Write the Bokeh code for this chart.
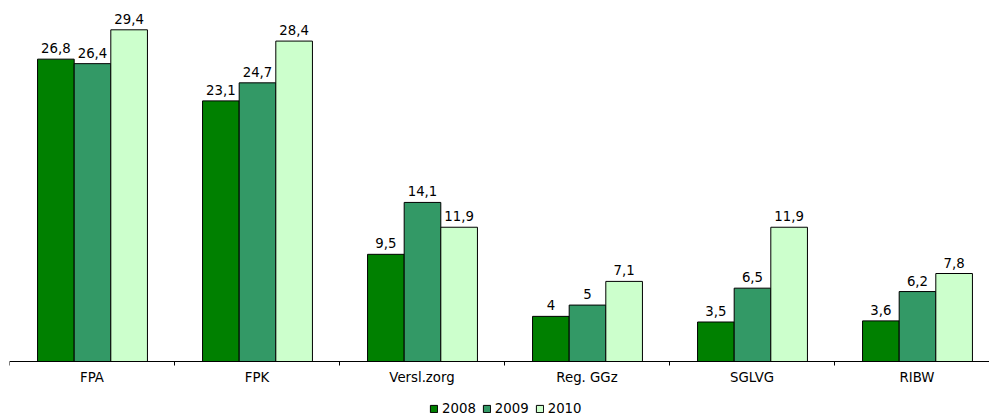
from bokeh.plotting import figure
from bokeh.models import (ColumnDataSource, Range1d, FixedTicker, Legend, LegendItem, LabelSet)
from bokeh.core.properties import value
from bokeh.embed import file_html
from bokeh.resources import INLINE

categories = ["FPA", "FPK", "Versl.zorg", "Reg. GGz", "SGLVG", "RIBW"]
years = ["2008", "2009", "2010"]
v2008 = [26.8, 23.1, 9.5, 4, 3.5, 3.6]
v2009 = [26.4, 24.7, 14.1, 5, 6.5, 6.2]
v2010 = [29.4, 28.4, 11.9, 7.1, 11.9, 7.8]
series = [v2008, v2009, v2010]
colors = ["#008000", "#339966", "#CCFFCC"]

FONT = "DejaVu Sans"
FS = "13.3px"
bar_w = 0.222
offsets = [-bar_w, 0.0, bar_w]
PX_PER_UNIT = 352 / 31.2

p = figure(frame_width=980, frame_height=409,
           output_backend="svg", toolbar_location=None,
           x_range=Range1d(0, 980 / 165.0), y_range=Range1d(-57 / PX_PER_UNIT, 31.2),
           min_border_left=9, min_border_right=0, min_border_top=9, min_border_bottom=0)
p.outline_line_color = None
p.xgrid.visible = False
p.ygrid.visible = False
p.yaxis.visible = False

renderers = []
for k, (vals, col) in enumerate(zip(series, colors)):
    xs = [i + 0.503 + offsets[k] for i in range(len(categories))]
    labels = [f"{v:g}".replace(".", ",") for v in vals]
    src = ColumnDataSource(dict(x=xs, top=vals, lab=labels))
    r = p.vbar(x="x", top="top", bottom=0, width=bar_w, source=src,
               fill_color=col, line_color="#000000", line_width=1)
    renderers.append(r)
    ls = LabelSet(x="x", y="top", text="lab", source=src, text_align="center",
                  text_baseline="bottom", y_offset=6, text_font=value(FONT),
                  text_font_size=FS, text_color="#000000")
    p.add_layout(ls)

ax = p.xaxis[0]
ax.fixed_location = 0
ax.ticker = FixedTicker(ticks=[i + 0.5 for i in range(len(categories))],
                        minor_ticks=list(range(len(categories) + 1)))
ax.major_label_overrides = {i + 0.5: c for i, c in enumerate(categories)}
ax.major_tick_out = 0
ax.major_tick_in = 0
ax.minor_tick_out = 4
ax.minor_tick_in = 0
ax.minor_tick_line_color = "#000000"
ax.axis_line_color = "#000000"
ax.major_label_standoff = 4
ax.major_label_text_font = FONT
ax.major_label_text_font_size = FS
ax.major_label_text_color = "#000000"

legend = Legend(items=[LegendItem(label=y, renderers=[r]) for y, r in zip(years, renderers)],
                orientation="horizontal", location=(420, 2),
                glyph_width=9, glyph_height=9, label_standoff=4, spacing=6,
                padding=0, margin=0, border_line_color=None, background_fill_alpha=0,
                label_text_font=FONT, label_text_font_size=FS, label_height=13,
                label_text_color="#000000")
p.add_layout(legend)

open("out.html", "w").write(file_html(p, INLINE))
